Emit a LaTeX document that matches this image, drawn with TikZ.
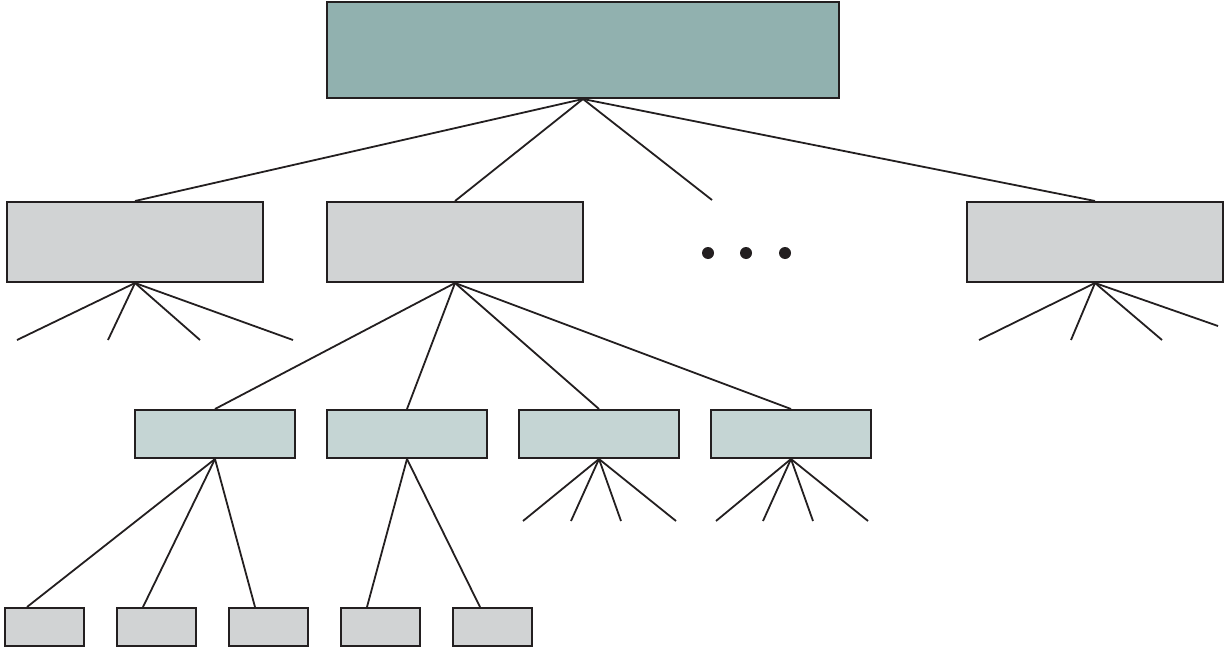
\documentclass[tikz,border=0pt]{standalone}
\usetikzlibrary{positioning}
\definecolor{rootteal}{RGB}{145,177,175}
\definecolor{boxgray}{RGB}{209,211,212}
\definecolor{subteal}{RGB}{197,213,212}
\definecolor{ink}{RGB}{35,31,32}
\tikzset{box/.style = {draw=ink, line width=2pt, inner sep=0, rectangle}}
\tikzset{rootbox/.style = {box, fill=rootteal, minimum width=512, minimum height=96}}
\tikzset{midbox/.style = {box, fill=boxgray, minimum width=256, minimum height=80}}
\tikzset{subbox/.style = {box, fill=subteal, minimum width=160, minimum height=48}}
\tikzset{leafbox/.style = {box, fill=boxgray, minimum width=79, minimum height=38}}
\tikzset{link/.style = {draw=ink, line width=1.8pt}}
\tikzset{dot/.style = {fill=ink, circle, inner sep=0, minimum size=12}}

\begin{document}
\begin{tikzpicture}[x=1pt, y=-1pt]
  \useasboundingbox (0,0) rectangle (1224,648);

  \node [rootbox] (root) at (583,50) {};

  \node [midbox] (ma) at (135,242) {};
  \node [midbox] (mb) at (455,242) {};
  \node [midbox] (mc) at (1095,242) {};

  \node [subbox] (sa) at (215,434) {};
  \node [subbox] (sb) at (407,434) {};
  \node [subbox] (sc) at (599,434) {};
  \node [subbox] (sd) at (791,434) {};

  \node [leafbox] (la) at (44,627) {};
  \node [leafbox] (lb) at (156,627) {};
  \node [leafbox] (lc) at (268,627) {};
  \node [leafbox] (ld) at (380,627) {};
  \node [leafbox] (le) at (492,627) {};

  \node [dot] (d1) at (708,253) {};
  \node [dot] (d2) at (746,253) {};
  \node [dot] (d3) at (785,253) {};

  % root to second row
  \coordinate (rfree) at (712,200);
  \draw [link] (root.south) -- (ma.north);
  \draw [link] (root.south) -- (mb.north);
  \draw [link] (root.south) -- (rfree);
  \draw [link] (root.south) -- (mc.north);

  % loose fans
  \foreach \x [count=\i] in {17,108,200,293}
    {\coordinate (fa\i) at (\x,340);
     \draw [link] (ma.south) -- (fa\i);}
  \foreach \x/\y [count=\i] in {979/340,1071/340,1162/340,1218/326}
    {\coordinate (fc\i) at (\x,\y);
     \draw [link] (mc.south) -- (fc\i);}
  \foreach \x [count=\i] in {523,571,621,676}
    {\coordinate (fs\i) at (\x,521);
     \draw [link] (sc.south) -- (fs\i);}
  \foreach \x [count=\i] in {716,763,813,868}
    {\coordinate (ft\i) at (\x,521);
     \draw [link] (sd.south) -- (ft\i);}

  % second row to third row
  \draw [link] (mb.south) -- (sa.north);
  \draw [link] (mb.south) -- (sb.north);
  \draw [link] (mb.south) -- (sc.north);
  \draw [link] (mb.south) -- (sd.north);

  % third row to leaves
  \draw [link] (sa.south) -- ([xshift=-17]la.north);
  \draw [link] (sa.south) -- ([xshift=-13]lb.north);
  \draw [link] (sa.south) -- ([xshift=-13]lc.north);
  \draw [link] (sb.south) -- ([xshift=-13]ld.north);
  \draw [link] (sb.south) -- ([xshift=-12]le.north);
\end{tikzpicture}
\end{document}
